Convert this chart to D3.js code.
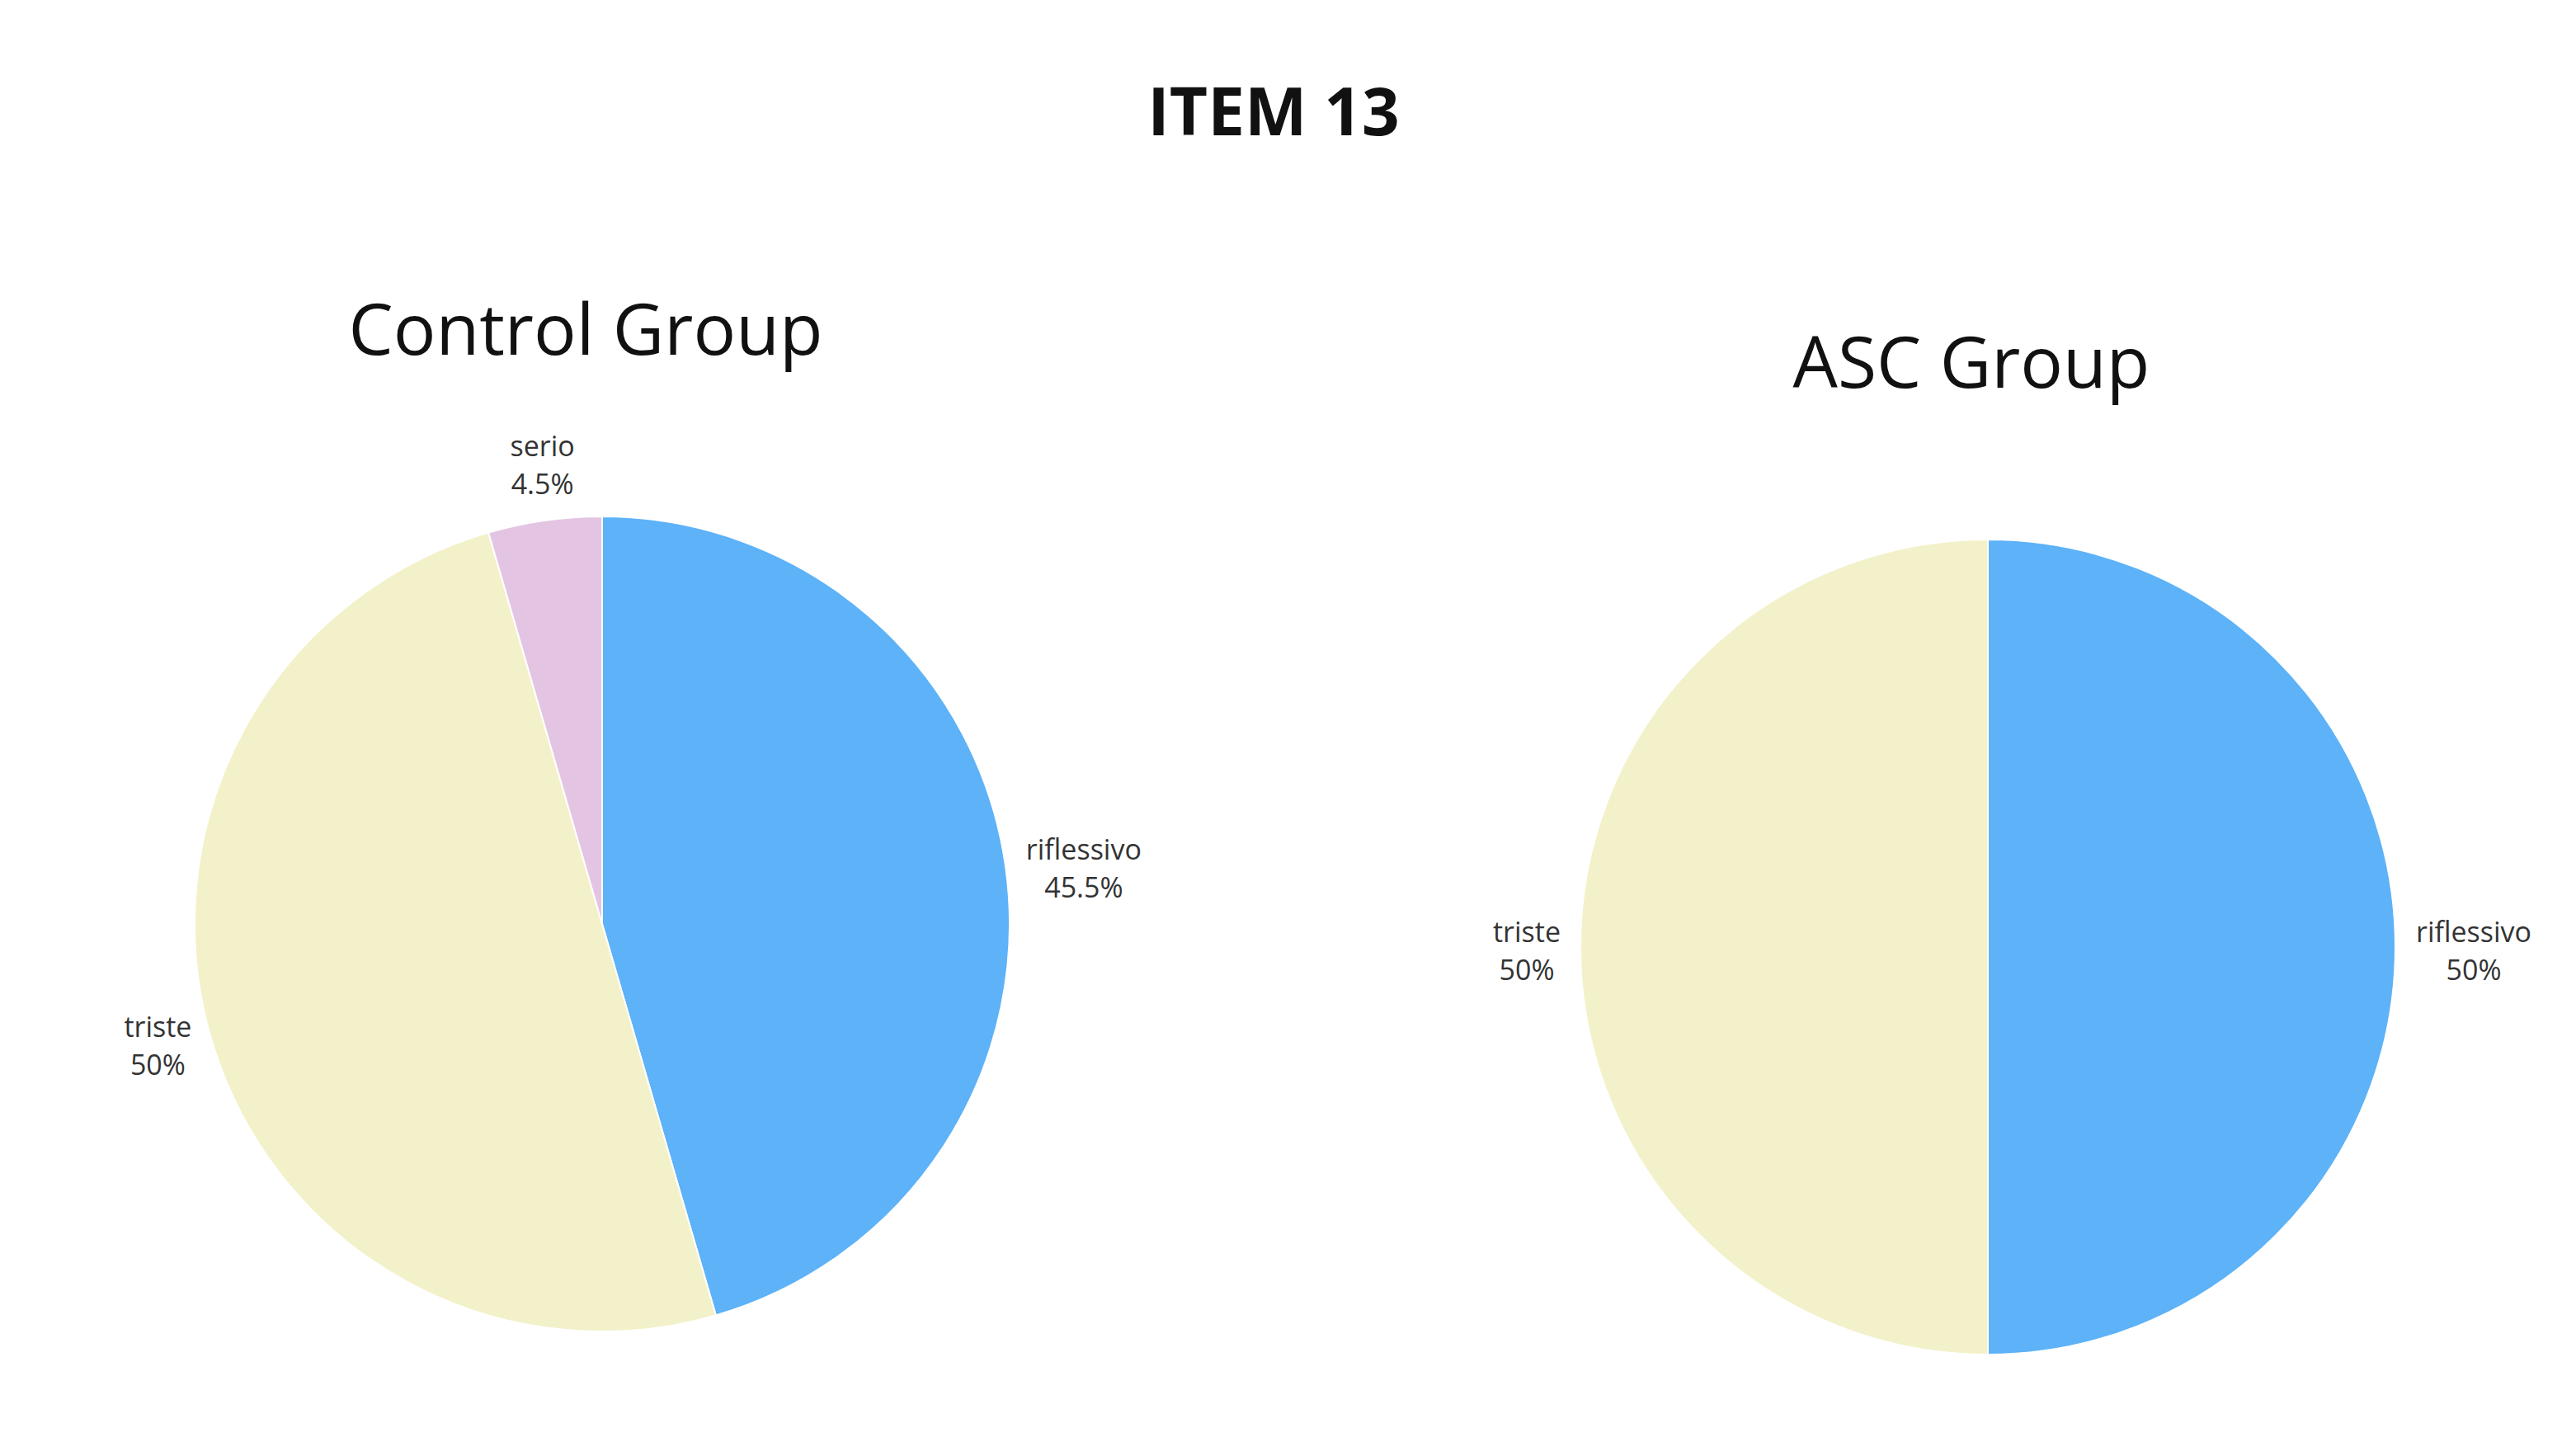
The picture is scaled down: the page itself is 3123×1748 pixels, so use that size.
<!DOCTYPE html>
<html><head><meta charset="utf-8">
<script src="https://cdn.jsdelivr.net/npm/d3@7"></script>
<style>body{margin:0;background:#fff}svg{font-family:"Open Sans",sans-serif}</style>
</head><body><svg id="c" width="3123" height="1748"></svg>
<script>
const categories = ["riflessivo","triste","serio"];
const controlValues = [45.5, 50, 4.5];
const ascValues = [50, 50, 0];
const colors = {riflessivo:"#5db2f8", triste:"#f3f1c9", serio:"#e3c5e3"};

const svg = d3.select("#c");
svg.append("text").attr("x",1544).attr("y",164).attr("text-anchor","middle")
  .attr("font-size",80).attr("font-weight","bold").attr("fill","#111").text("ITEM 13");

function drawPie(cx, cy, r, title, titleY, values){
  svg.append("text").attr("x",cx-20).attr("y",titleY).attr("text-anchor","middle")
    .attr("font-size",86).attr("fill","#111").text(title);
  const data = categories.map((c,i)=>({c, v:values[i]})).filter(d=>d.v>0);
  const pie = d3.pie().sort(null).value(d=>d.v);
  const arc = d3.arc().innerRadius(0).outerRadius(r);
  const g = svg.append("g").attr("transform",`translate(${cx},${cy})`);
  const arcs = pie(data);
  g.selectAll("path").data(arcs).join("path").attr("d",arc)
    .attr("fill",d=>colors[d.data.c]).attr("stroke","#fff").attr("stroke-width",2);
  arcs.forEach(a=>{
    const m=(a.startAngle+a.endAngle)/2, s=Math.sin(m), co=Math.cos(m);
    const R=r+20, x=R*s, y=-R*co;
    let anchor = Math.abs(s)<0.3?"middle":(s>0?"start":"end");
    let y0 = co>0.9 ? y-58 : y-6;
    const t=g.append("text").attr("text-anchor",anchor).attr("font-size",34).attr("fill","#333");
    const xx = anchor==="middle"? x : x + (s>0?-14:14)*0;
    t.append("tspan").attr("x",xx).attr("y",y0).attr("text-anchor","middle")
      .attr("dx", anchor==="start"? 75 : anchor==="end"? -45 : 0).text(a.data.c);
    t.append("tspan").attr("x",xx).attr("y",y0+46).attr("text-anchor","middle")
      .attr("dx", anchor==="start"? 75 : anchor==="end"? -45 : 0).text(d3.format(".3~")(a.data.v)+"%");
  });
}
drawPie(730,1120,494,"Control Group",430,controlValues);
drawPie(2410,1148,494,"ASC Group",470,ascValues);
</script></body></html>
